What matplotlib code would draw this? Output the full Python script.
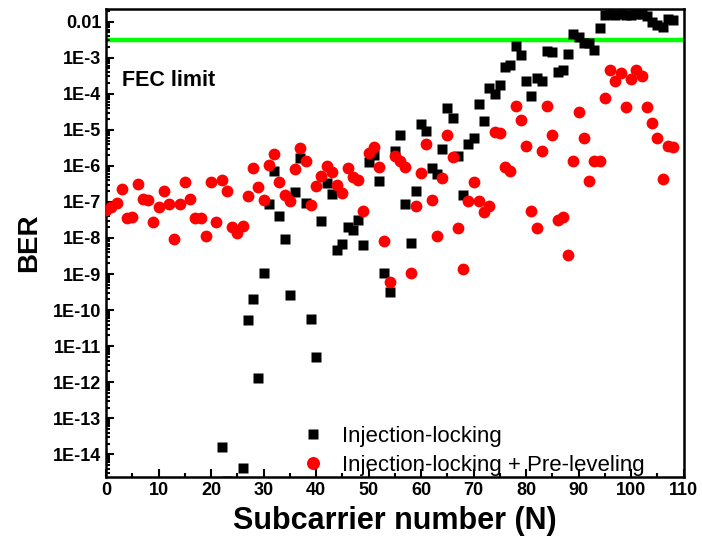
import numpy as np
import matplotlib
matplotlib.use('Agg')
import matplotlib.pyplot as plt
from matplotlib.ticker import FixedLocator, MultipleLocator, LogLocator, NullFormatter

plt.rcParams['font.family'] = ['Liberation Sans', 'DejaVu Sans']

# Injection-locking + Pre-leveling (red), subcarriers 0..108
n_red = list(range(0, 109))
ber_red = [6.0e-8, 7.2e-8, 9.1e-8, 2.3e-7, 3.5e-8, 3.8e-8, 3.2e-7, 1.2e-7, 1.1e-7, 2.8e-8,
           7.4e-8, 2.0e-7, 8.5e-8, 9.5e-9, 8.5e-8, 3.6e-7, 1.2e-7, 3.6e-8, 3.5e-8, 1.15e-8,
           3.6e-7, 2.8e-8, 4.1e-7, 2.0e-7, 2.0e-8, 1.35e-8, 2.1e-8, 1.5e-7, 8.5e-7, 2.6e-7,
           1.1e-7, 1.05e-6, 2.1e-6, 3.5e-7, 1.6e-7, 1.07e-7, 8.1e-7, 3.1e-6, 1.35e-6, 8.3e-8,
           2.8e-7, 5.2e-7, 1.0e-6, 6.8e-7, 2.9e-7, 1.8e-7, 8.7e-7, 4.8e-7, 4.1e-7, 5.6e-8,
           2.3e-6, 3.3e-6, 9.5e-7, 8.3e-9, 5.9e-10, 1.9e-6, 1.4e-6, 9.5e-7, 1.05e-9, 7.9e-8,
           6.5e-7, 4.0e-6, 1.1e-7, 1.15e-8, 4.5e-7, 7.2e-6, 1.8e-6, 1.9e-8, 1.4e-9, 1.07e-7,
           3.6e-7, 1.07e-7, 5.1e-8, 7.9e-8, 8.9e-6, 8.3e-6, 9.5e-7, 7.4e-7, 4.6e-5, 1.9e-5,
           3.6e-6, 5.7e-8, 1.9e-8, 2.6e-6, 4.7e-5, 7.2e-6, 3.2e-8, 3.7e-8, 3.4e-9, 1.4e-6,
           3.2e-5, 5.9e-6, 3.8e-7, 1.35e-6, 1.35e-6, 7.8e-5, 4.6e-4, 2.3e-4, 3.7e-4, 4.2e-5,
           2.6e-4, 4.6e-4, 3.1e-4, 4.2e-5, 1.5e-5, 5.9e-6, 4.4e-7, 3.6e-6, 3.3e-6]

# Injection-locking (black)
n_blk = [22, 23] + list(range(26, 109))
ber_blk = [1.6e-14, 1.8e-15, 4.3e-15, 5.5e-11, 2.1e-10, 1.3e-12, 1.05e-9, 8.7e-8, 7.1e-7, 4.1e-8,
           9.2e-9, 2.6e-10, 1.9e-7, 1.7e-6, 9.2e-8, 5.6e-11, 5.1e-12, 2.9e-8, 3.4e-7, 1.7e-7,
           4.7e-9, 6.8e-9, 2.0e-8, 1.7e-8, 3.2e-8, 6.3e-9, 1.3e-6, 2.0e-6, 3.7e-7, 1.05e-9,
           3.1e-10, 2.5e-6, 7.2e-6, 8.6e-8, 7.1e-9, 2.0e-7, 1.4e-5, 9.3e-6, 8.9e-7, 6.0e-7,
           2.9e-6, 4.0e-5, 2.1e-5, 1.9e-6, 1.6e-7, 4.0e-6, 6.0e-6, 5.1e-5, 1.8e-5, 1.4e-4,
           1.0e-4, 1.7e-4, 5.6e-4, 6.3e-4, 2.1e-3, 1.2e-3, 2.2e-4, 8.9e-5, 2.7e-4, 2.3e-4,
           1.55e-3, 1.4e-3, 4.1e-4, 4.6e-4, 1.3e-3, 4.5e-3, 3.8e-3, 2.5e-3, 2.5e-3, 1.6e-3,
           6.6e-3, 1.55e-2, 1.6e-2, 1.5e-2, 1.6e-2, 1.55e-2, 1.5e-2, 1.6e-2, 1.6e-2, 1.4e-2,
           1.0e-2, 8.1e-3, 7.0e-3, 1.2e-2, 1.1e-2]

fec_limit = 3.0e-3
ytick_vals = [1e-2, 1e-3, 1e-4, 1e-5, 1e-6, 1e-7, 1e-8, 1e-9, 1e-10, 1e-11, 1e-12, 1e-13, 1e-14]
ytick_labels = ['0.01', '1E-3', '1E-4', '1E-5', '1E-6', '1E-7', '1E-8', '1E-9', '1E-10',
                '1E-11', '1E-12', '1E-13', '1E-14']

fig = plt.figure(figsize=(7.02, 5.40), dpi=100)
ax = fig.add_axes([0.151, 0.117, 0.823, 0.866])

ax.axhline(fec_limit, color='#00ff00', lw=3.2, zorder=1)
ax.plot(n_blk, ber_blk, 's', color='black', ms=7, mec='none', label='Injection-locking', zorder=2)
ax.plot(n_red, ber_red, 'o', color='red', ms=8.5, mec='none',
        label='Injection-locking + Pre-leveling', zorder=3)

ax.set_yscale('log')
ax.set_xlim(0, 110)
ax.set_ylim(2.4e-15, 2.2e-2)

ax.xaxis.set_major_locator(MultipleLocator(10))
ax.xaxis.set_minor_locator(MultipleLocator(5))
ax.yaxis.set_major_locator(FixedLocator(ytick_vals))
ax.set_yticklabels(ytick_labels)
ax.yaxis.set_minor_locator(LogLocator(base=10, subs=np.arange(2, 10), numticks=100))
ax.yaxis.set_minor_formatter(NullFormatter())

ax.tick_params(which='both', direction='in', top=False, right=False, width=1.5)
ax.tick_params(which='major', length=6, labelsize=13)
ax.tick_params(which='minor', length=3)
for lab in ax.get_xticklabels() + ax.get_yticklabels():
    lab.set_fontweight('bold')
for sp in ax.spines.values():
    sp.set_linewidth(1.8)

ax.set_xlabel('Subcarrier number (N)', fontsize=22, fontweight='bold', labelpad=5)
ax.set_ylabel('BER', fontsize=20, fontweight='bold', labelpad=8)

ax.text(0.027, 0.847, 'FEC limit', transform=ax.transAxes, fontsize=15.5,
        fontweight='bold', ha='left', va='center')

ax.legend(loc='center left', bbox_to_anchor=(0.30, 0.055), frameon=False, fontsize=16,
          handletextpad=0.7, labelspacing=0.35, handlelength=1.2, markerscale=1.1)

fig.savefig('out.png', dpi=100)
